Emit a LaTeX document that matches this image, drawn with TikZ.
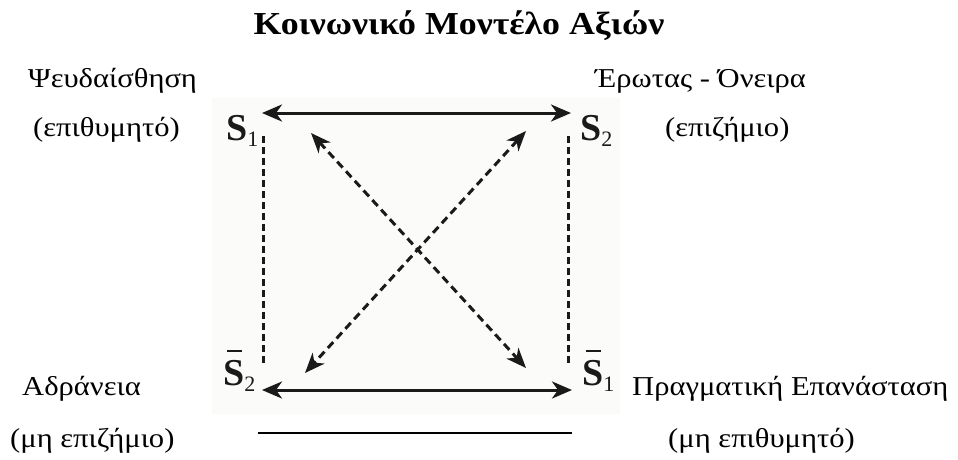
\documentclass[tikz,border=0pt]{standalone}
\usepackage{fontspec}
\setmainfont{Liberation Serif}
\newfontfamily\grk[FakeStretch=1.12]{Liberation Serif}
\usetikzlibrary{arrows.meta}
\definecolor{ink}{HTML}{1A1A1A}
\definecolor{scanbg}{HTML}{FBFBFA}
\newcommand{\sbar}{\makebox[0pt][l]{\hspace{0.1em}\raisebox{0.86em}{\rule{0.4em}{0.07em}}}S}
\tikzset{
  lbl/.style={anchor=base west, inner sep=0pt, font=\grk\fontsize{27.3}{30}\selectfont},
  slbl/.style={anchor=base west, inner sep=0pt, text=ink, font=\bfseries\fontsize{38}{40}\selectfont},
  solidarr/.style={draw=ink, line width=3pt, {Stealth[length=20pt,width=17pt,inset=6pt]}-{Stealth[length=20pt,width=17pt,inset=6pt]}},
  dasharr/.style={draw=ink, line width=3pt, dash pattern=on 8pt off 5pt, {Stealth[length=20pt,width=16pt,inset=6pt]}-{Stealth[length=20pt,width=16pt,inset=6pt]}},
  vdash/.style={draw=ink, line width=3pt, dash pattern=on 7pt off 4pt},
}
\newcommand{\sub}[1]{\raisebox{-6pt}{\mdseries\fontsize{22}{22}\selectfont #1}}
\begin{document}
\begin{tikzpicture}[x=1pt,y=-1pt]
\useasboundingbox (0,0) rectangle (958,459);
\fill[white] (0,0) rectangle (958,459);
\fill[scanbg] (212,98) rectangle (620,414);

\node[anchor=base, inner sep=0pt, font=\grk\bfseries\fontsize{32}{35}\selectfont] (title) at (459,34) {Κοινωνικό Μοντέλο Αξιών};

\node[lbl] (l1) at (28,87) {Ψευδαίσθηση};
\node[lbl] (l2) at (33,136) {(επιθυμητό)};
\node[lbl] (r1) at (595,87) {Έρωτας - Όνειρα};
\node[lbl] (r2) at (665,136) {(επιζήμιο)};
\node[lbl] (l3) at (22,395) {Αδράνεια};
\node[lbl] (l4) at (10,447) {(μη επιζήμιο)};
\node[lbl] (r3) at (632,395) {Πραγματική Επανάσταση};
\node[lbl] (r4) at (668,447) {(μη επιθυμητό)};

\node[slbl] (s1) at (226,140) {S\sub{1}};
\node[slbl] (s2) at (580,140) {S\sub{2}};
\node[slbl] (ns2) at (223,385) {\sbar\sub{2}};
\node[slbl] (ns1) at (582,385) {\sbar\sub{1}};

\coordinate (a1) at (262,113);
\coordinate (a2) at (571,113);
\coordinate (b1) at (262,390);
\coordinate (b2) at (572,390);
\coordinate (d1) at (311,133);
\coordinate (d2) at (526,368);
\coordinate (e1) at (526,131);
\coordinate (e2) at (305,373);
\coordinate (v1) at (263,136);
\coordinate (v2) at (263,366);
\coordinate (w1) at (568,136);
\coordinate (w2) at (568,366);
\coordinate (h1) at (258,433);
\coordinate (h2) at (572,433);

\draw[solidarr] (a1) -- (a2);
\draw[solidarr] (b1) -- (b2);
\draw[dasharr] (d1) -- (d2);
\draw[dasharr] (e1) -- (e2);
\draw[vdash] (v1) -- (v2);
\draw[vdash] (w1) -- (w2);
\draw[line width=2pt] (h1) -- (h2);
\end{tikzpicture}
\end{document}
